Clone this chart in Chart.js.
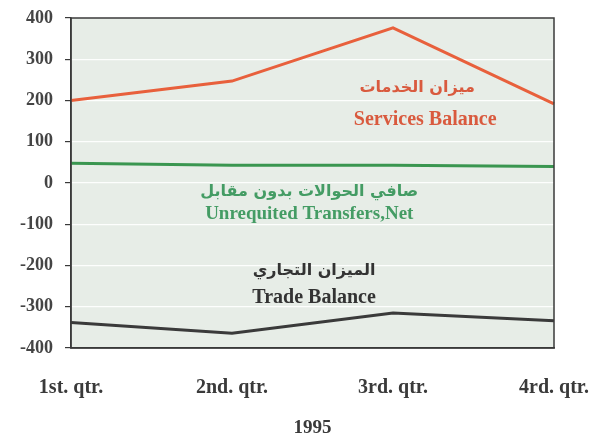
<!DOCTYPE html>
<html>
<head>
<meta charset="utf-8">
<script src="https://cdn.jsdelivr.net/npm/chart.js@4/dist/chart.umd.min.js"></script>
<style>
  html, body { margin: 0; padding: 0; background: #ffffff; }
  #wrap { width: 607px; height: 439px; }
</style>
</head>
<body>
<div id="wrap"><canvas id="c" width="607" height="439"></canvas></div>
<script>
// ---- Data ----
const categories = ["1st. qtr.", "2nd. qtr.", "3rd. qtr.", "4rd. qtr."];
const servicesBalance = [200, 247, 376, 192];
const unrequitedTransfers = [48, 43, 43, 40];
const tradeBalance = [-338, -364, -315, -334];
const yTicks = [400, 300, 200, 100, 0, -100, -200, -300, -400];
const xTitle = "1995";

// ---- Series labels (text only; placed in data units) ----
const seriesLabels = [
  { ar: "ميزان الخدمات", en: "Services Balance", color: "#d95a3e", enSize: 20,
    xi: 2.15, arY: 231, xiEn: 2.2, enY: 153 },
  { ar: "صافي الحوالات بدون مقابل", en: "Unrequited Transfers,Net", color: "#449c64", enSize: 19,
    xi: 1.48, arY: -22, xiEn: 1.48, enY: -75 },
  { ar: "الميزان التجاري", en: "Trade Balance", color: "#333333", enSize: 20,
    xi: 1.51, arY: -212, xiEn: 1.51, enY: -278 }
];

const plotBg = {
  id: 'plotBg',
  beforeDraw(chart) {
    const { ctx, chartArea: a } = chart;
    ctx.save();
    ctx.fillStyle = '#e7ede7';
    ctx.fillRect(a.left, a.top, a.right - a.left, a.bottom - a.top);
    ctx.restore();
  },
  afterDatasetsDraw(chart) {
    const { ctx, chartArea: a } = chart;
    ctx.save();
    ctx.strokeStyle = '#3a3a3a';
    ctx.lineWidth = 1.5;
    ctx.strokeRect(a.left, a.top, a.right - a.left, a.bottom - a.top);
    ctx.restore();
  }
};

const textLabels = {
  id: 'textLabels',
  afterDraw(chart) {
    const { ctx, scales: { x, y } } = chart;
    ctx.save();
    ctx.textAlign = 'center';
    ctx.textBaseline = 'middle';
    seriesLabels.forEach(l => {
      ctx.fillStyle = l.color;
      ctx.font = 'bold 16px "DejaVu Sans"';
      ctx.direction = 'rtl';
      ctx.fillText(l.ar, x.getPixelForValue(l.xi), y.getPixelForValue(l.arY));
      ctx.direction = 'ltr';
      ctx.font = 'bold ' + l.enSize + 'px "Liberation Serif"';
      ctx.fillText(l.en, x.getPixelForValue(l.xiEn), y.getPixelForValue(l.enY));
    });
    ctx.restore();
  }
};

new Chart(document.getElementById('c'), {
  type: 'line',
  data: {
    labels: categories,
    datasets: [
      { label: 'Services Balance', data: servicesBalance, borderColor: '#e8603c', borderWidth: 3, pointRadius: 0, tension: 0 },
      { label: 'Unrequited Transfers,Net', data: unrequitedTransfers, borderColor: '#3a9650', borderWidth: 3, pointRadius: 0, tension: 0 },
      { label: 'Trade Balance', data: tradeBalance, borderColor: '#3a3a3a', borderWidth: 3, pointRadius: 0, tension: 0 }
    ]
  },
  options: {
    responsive: false,
    animation: false,
    layout: { padding: { left: 0, right: 53, top: 18, bottom: 0 } },
    plugins: { legend: { display: false }, tooltip: { enabled: false } },
    scales: {
      x: {
        type: 'category',
        offset: false,
        grid: { display: false },
        border: { display: true, color: '#3a3a3a', width: 1.5 },
        ticks: {
          color: '#3a3a3a', padding: 20, maxRotation: 0, autoSkip: false,
          font: { family: 'Liberation Serif', size: 20, weight: 'bold' }
        },
        title: {
          display: true, text: xTitle, color: '#3a3a3a',
          font: { family: 'Liberation Serif', size: 19, weight: 'bold' },
          padding: { top: 0, bottom: 0 }
        },
        afterFit(scale) { scale.height = 91; scale.paddingLeft = 0; scale.paddingRight = 0; }
      },
      y: {
        min: -400, max: 400,
        afterBuildTicks(scale) { scale.ticks = yTicks.map(v => ({ value: v })); },
        grid: { color: 'rgba(255,255,255,0.9)', lineWidth: 1.2, tickColor: '#3a3a3a', tickLength: 6, drawTicks: true },
        border: { display: true, color: '#3a3a3a', width: 1.5 },
        ticks: {
          color: '#444444', padding: 12,
          font: { family: 'Liberation Serif', size: 18, weight: 'bold' }
        },
        afterFit(scale) { scale.width = 71; scale.paddingTop = 0; scale.paddingBottom = 0; }
      }
    }
  },
  plugins: [plotBg, textLabels]
});
</script>
</body>
</html>
